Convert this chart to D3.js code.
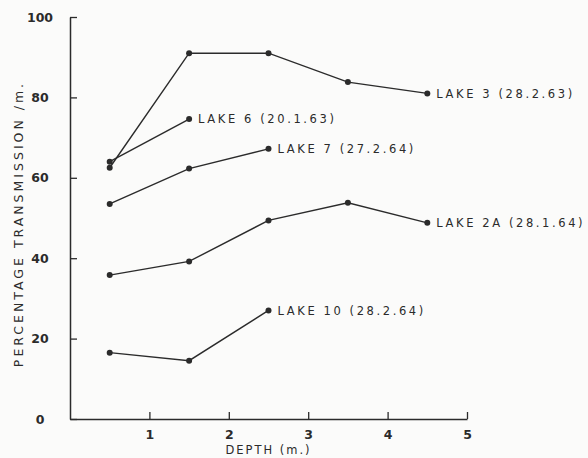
<!DOCTYPE html>
<html>
<head>
<meta charset="utf-8">
<script src="https://cdn.jsdelivr.net/npm/d3@7"></script>
<style>
  body { margin: 0; background: #fbfbfa; }
  svg text { font-family: "DejaVu Sans", sans-serif; fill: #2b2b2b; }
</style>
</head>
<body>
<svg id="chart" width="588" height="458"></svg>
<script>
// depths in metres
const depths = [0.5, 1.5, 2.5, 3.5, 4.5];
const lakeNames = ["LAKE 3 (28.2.63)", "LAKE 6 (20.1.63)", "LAKE 7 (27.2.64)", "LAKE 2A (28.1.64)", "LAKE 10 (28.2.64)"];
const lake3 = [62.5, 91, 91, 83.8, 81];
const lake6 = [64, 74.6];
const lake7 = [53.5, 62.3, 67.2];
const lake2a = [35.8, 39.2, 49.4, 53.8, 48.8];
const lake10 = [16.5, 14.5, 27];
const yTicks = [0, 20, 40, 60, 80, 100];
const xTicks = [1, 2, 3, 4, 5];

const svg = d3.select("#chart");
const ink = "#2b2b2b";

const x = d3.scaleLinear().domain([0, 5]).range([70, 467]);
const y = d3.scaleLinear().domain([0, 100]).range([419, 17]);

const series = [lake3, lake6, lake7, lake2a, lake10].map((vals, i) => ({
  name: lakeNames[i],
  points: vals.map((v, j) => ({ depth: depths[j], value: v }))
}));

// axes
const xAxis = d3.axisBottom(x).tickValues(xTicks).tickSizeInner(-7).tickSizeOuter(0).tickPadding(11)
  .tickFormat(d3.format("d"));
const yAxis = d3.axisLeft(y).tickValues(yTicks).tickSizeInner(-7).tickSizeOuter(0).tickPadding(18);

const gx = svg.append("g").attr("transform", `translate(0,${y(0)})`).call(xAxis);
const gy = svg.append("g").attr("transform", `translate(${x(0)},0)`).call(yAxis);

[gx, gy].forEach(g => {
  g.select(".domain").attr("stroke", ink).attr("stroke-width", 1.5);
  g.selectAll(".tick line").attr("stroke", ink).attr("stroke-width", 1.3);
  g.selectAll(".tick text").attr("font-size", 12.5).attr("font-family", "DejaVu Sans").attr("fill", ink)
    .attr("font-weight", "bold");
});
gy.selectAll(".tick text").attr("text-anchor", "middle").attr("x", -30);

// axis titles
svg.append("text")
  .attr("transform", `translate(23,${y(48.5)}) rotate(-90)`)
  .attr("text-anchor", "middle")
  .attr("font-size", 12.5)
  .attr("letter-spacing", 3)
  .text("PERCENTAGE TRANSMISSION /m.");

svg.append("text")
  .attr("x", x(2.5))
  .attr("y", 454)
  .attr("text-anchor", "middle")
  .attr("font-size", 11.5)
  .attr("letter-spacing", 2)
  .text("DEPTH (m.)");

// lines and points
const line = d3.line().x(d => x(d.depth)).y(d => y(d.value));

const g = svg.append("g");
series.forEach(s => {
  g.append("path")
    .attr("d", line(s.points))
    .attr("fill", "none")
    .attr("stroke", ink)
    .attr("stroke-width", 1.4);
  g.selectAll(null).data(s.points).enter().append("circle")
    .attr("cx", d => x(d.depth))
    .attr("cy", d => y(d.value))
    .attr("r", 3)
    .attr("fill", ink);
  const last = s.points[s.points.length - 1];
  g.append("text")
    .attr("x", x(last.depth) + 9)
    .attr("y", y(last.value))
    .attr("dy", "0.36em")
    .attr("font-size", 11.5)
    .attr("letter-spacing", 2.6)
    .text(s.name);
});
</script>
</body>
</html>
